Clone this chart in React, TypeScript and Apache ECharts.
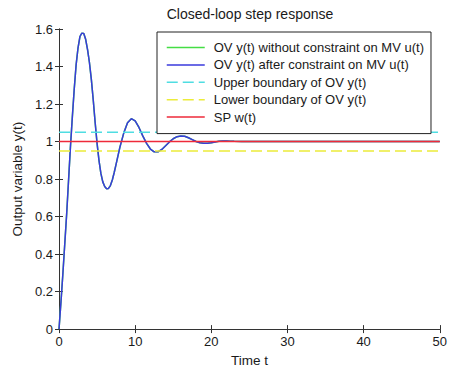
import React, { useEffect, useRef } from "react";
import * as echarts from "echarts";

const timeT = [
  0, 0.25, 0.5, 0.75, 1, 1.25, 1.5, 1.75, 2, 2.25, 2.5, 2.75, 3, 3.25, 3.5, 3.75, 4, 4.25, 4.5, 4.75,
  5, 5.25, 5.5, 5.75, 6, 6.25, 6.5, 6.75, 7, 7.25, 7.5, 7.75, 8, 8.5, 9, 9.5, 10, 10.5, 11, 11.5,
  12, 12.5, 13, 13.5, 14, 14.5, 15, 15.5, 16, 16.5, 17, 17.5, 18, 18.5, 19, 19.5, 20, 20.5, 21, 21.5,
  22, 22.5, 23, 24, 25, 30, 40, 50,
];
const yAfterConstraint = [
  0, 0.14, 0.29, 0.45, 0.61, 0.79, 0.97, 1.13, 1.28, 1.41, 1.5, 1.56, 1.578, 1.576, 1.545, 1.49, 1.42, 1.33, 1.22, 1.1,
  0.99, 0.9, 0.83, 0.785, 0.76, 0.748, 0.75, 0.765, 0.795, 0.835, 0.88, 0.925, 0.97, 1.045, 1.1, 1.122, 1.11, 1.075, 1.03, 0.99,
  0.96, 0.945, 0.945, 0.958, 0.978, 0.998, 1.015, 1.026, 1.03, 1.028, 1.02, 1.01, 1.0, 0.994, 0.991, 0.991, 0.994, 0.998, 1.001, 1.003,
  1.003, 1.002, 1.001, 1.0, 1.0, 1.0, 1.0, 1.0,
];
const yWithoutConstraint = [
  0, 0.14, 0.29, 0.45, 0.61, 0.79, 0.97, 1.13, 1.28, 1.41, 1.5, 1.56, 1.578, 1.576, 1.545, 1.49, 1.42, 1.33, 1.22, 1.1,
  0.99, 0.9, 0.83, 0.785, 0.76, 0.748, 0.75, 0.765, 0.795, 0.835, 0.88, 0.925, 0.97, 1.045, 1.1, 1.122, 1.11, 1.075, 1.03, 0.99,
  0.96, 0.945, 0.945, 0.958, 0.978, 0.998, 1.015, 1.026, 1.03, 1.028, 1.02, 1.01, 1.0, 0.994, 0.991, 0.991, 0.994, 0.998, 1.001, 1.003,
  1.003, 1.002, 1.001, 1.0, 1.0, 1.0, 1.0, 1.0,
];
const boundaryT = [0, 50];
const upperBoundary = [1.05, 1.05];
const lowerBoundary = [0.95, 0.95];
const setpoint = [1, 1];

const seriesNames = [
  "OV y(t) without constraint on MV u(t)",
  "OV y(t) after constraint on MV u(t)",
  "Upper boundary of OV y(t)",
  "Lower boundary of OV y(t)",
  "SP w(t)",
];

const pairs = (xs: number[], ys: number[]) => xs.map((x, i) => [x, ys[i]]);

const FONT = "'Liberation Sans', Arial, sans-serif";
const AXIS_COLOR = "#333333";
const TEXT_COLOR = "#1a1a1a";

export default function App() {
  const ref = useRef<HTMLDivElement>(null);

  useEffect(() => {
    if (!ref.current) return;
    const chart = echarts.init(ref.current, null, { renderer: "svg" });
    const mirrorAxis = {
      axisLine: { show: true, lineStyle: { color: AXIS_COLOR, width: 1 } },
      axisTick: { show: true, inside: true, length: 4, lineStyle: { color: AXIS_COLOR } },
      axisLabel: { show: false },
      splitLine: { show: false },
    };
    const line = (name: string, data: number[][], color: string, dashed: boolean, width = 1.5) => ({
      name,
      type: "line",
      data,
      symbol: "none",
      showSymbol: false,
      xAxisIndex: 0,
      yAxisIndex: 0,
      lineStyle: { color, width, type: dashed ? [11, 5] : "solid" },
      itemStyle: { color },
      emphasis: { disabled: true },
    });
    chart.setOption({
      animation: false,
      backgroundColor: "#ffffff",
      title: {
        text: "Closed-loop step response",
        left: 250,
        top: 7,
        padding: 0,
        textAlign: "center",
        textStyle: { fontFamily: FONT, fontSize: 14, fontWeight: "normal", color: TEXT_COLOR },
      },
      grid: { left: 59, right: 7, top: 29, bottom: 40, containLabel: false },
      legend: {
        orient: "vertical",
        left: 157,
        top: 32,
        padding: [9, 7, 10, 9],
        itemWidth: 38,
        itemHeight: 14,
        itemGap: 4.4,
        backgroundColor: "#ffffff",
        borderColor: "#222222",
        borderWidth: 1,
        borderRadius: 0,
        selectedMode: false,
        data: seriesNames,
        itemStyle: { opacity: 0 },
        lineStyle: { width: 1.5 },
        textStyle: { fontFamily: FONT, fontSize: 13, color: TEXT_COLOR, padding: [0, 0, 0, 4] },
      },
      xAxis: [
        {
          type: "value",
          position: "bottom",
          min: 0,
          max: 50,
          interval: 10,
          name: "Time t",
          nameLocation: "middle",
          nameGap: 23,
          nameTextStyle: { fontFamily: FONT, fontSize: 13.5, color: TEXT_COLOR },
          axisLine: { show: true, lineStyle: { color: AXIS_COLOR, width: 1 } },
          axisTick: { show: true, inside: true, length: 4, lineStyle: { color: AXIS_COLOR } },
          axisLabel: { fontFamily: FONT, fontSize: 13, color: TEXT_COLOR, margin: 6 },
          splitLine: { show: false },
        },
        { type: "value", position: "top", min: 0, max: 50, interval: 10, ...mirrorAxis },
      ],
      yAxis: [
        {
          type: "value",
          position: "left",
          min: 0,
          max: 1.6,
          interval: 0.2,
          name: "Output variable y(t)",
          nameLocation: "middle",
          nameGap: 32,
          nameTextStyle: { fontFamily: FONT, fontSize: 13.5, color: TEXT_COLOR },
          axisLine: { show: true, lineStyle: { color: AXIS_COLOR, width: 1 } },
          axisTick: { show: true, inside: true, length: 4, lineStyle: { color: AXIS_COLOR } },
          axisLabel: { fontFamily: FONT, fontSize: 13, color: TEXT_COLOR, margin: 6 },
          splitLine: { show: false },
        },
        { type: "value", position: "right", min: 0, max: 1.6, interval: 0.2, ...mirrorAxis },
      ],
      series: [
        line(seriesNames[0], pairs(timeT, yWithoutConstraint), "#44dd44", false),
        line(seriesNames[1], pairs(timeT, yAfterConstraint), "#3a3adc", false),
        line(seriesNames[2], pairs(boundaryT, upperBoundary), "#4fdde2", true),
        line(seriesNames[3], pairs(boundaryT, lowerBoundary), "#ecec3a", true),
        line(seriesNames[4], pairs(boundaryT, setpoint), "#ee2a3a", false),
      ],
    });
    return () => chart.dispose();
  }, []);

  return (
    <div
      ref={ref}
      style={{ position: "fixed", left: 0, top: 0, width: 450, height: 372, background: "#ffffff" }}
    />
  );
}
